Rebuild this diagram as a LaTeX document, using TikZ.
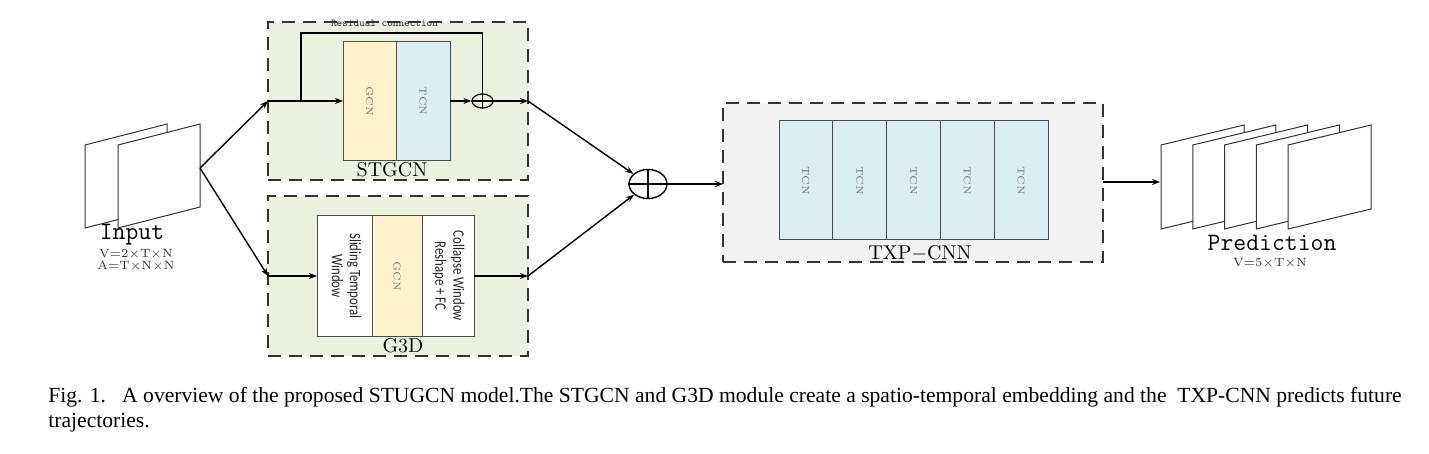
\documentclass[tikz,border=0pt]{standalone}
\usepackage{fontspec}
\usepackage{graphicx}
\usetikzlibrary{arrows.meta,shapes.geometric,positioning}
\newfontfamily\capfont{Liberation Serif}
\newfontfamily\blockfont[FakeStretch=0.8]{Carlito}
\definecolor{modgreen} {RGB}{235,241,222}
\definecolor{modgray}  {RGB}{242,242,242}
\definecolor{gcnyellow}{RGB}{255,242,204}
\definecolor{tcnblue}  {RGB}{219,238,243}

\begin{document}
\begin{tikzpicture}[
  x=0.5pt,y=-0.5pt,
  >={Stealth[length=4pt,width=3pt]},
  module/.style={draw=black!80,line width=1pt,dash pattern=on 6.5pt off 4pt,
                 fill=modgreen,inner sep=0pt,outer sep=0pt},
  layer/.style ={draw=black!70,line width=0.5pt,inner sep=0pt,outer sep=0pt,
                 minimum height=59.5pt,text=black!55,
                 font=\fontsize{5}{6}\selectfont},
  gcn/.style   ={layer,fill=gcnyellow},
  tcn/.style   ={layer,fill=tcnblue},
  wlayer/.style={layer,fill=white,minimum height=60pt,text=black!85,
                 font=\blockfont\fontsize{8}{9}\selectfont},
  sumop/.style ={draw,ellipse,line width=0.6pt,inner sep=0pt},
  modname/.style={font=\fontsize{10}{12}\selectfont},
  big/.style   ={font=\ttfamily\fontsize{12.5}{14}\selectfont},
  dims/.style  ={font=\fontsize{6}{7}\selectfont,text=black!80},
  sheet/.style ={draw=black!80,fill=white,line width=0.5pt},
  arr/.style   ={->,line width=0.7pt},
]
\useasboundingbox (0,0) rectangle (1429,454);

%% -- Input sheets
\foreach \dx in {0,33}
  \draw[sheet] (85+\dx,145) -- (167+\dx,124) -- (167+\dx,207) -- (85+\dx,228) -- cycle;
\coordinate (inR) at (200,168);
\node[big,anchor=base]  (intxt) at (132,240) {Input};
\node[dims,anchor=base] (inV)   at (136,257) {V=2$\times$T$\times$N};
\node[dims,anchor=base] (inA)   at (136,270) {A=T$\times$N$\times$N};

%% -- STGCN module
\node[module,minimum width=130pt,minimum height=79pt] (stgcn) at (398,101) {};
\node[gcn,minimum width=26.5pt] (gcnA) at (369.5,101) {\rotatebox{-90}{GCN}};
\node[tcn,minimum width=27pt,right=0pt of gcnA] (tcnA) {\rotatebox{-90}{TCN}};
\node[sumop,minimum width=10.5pt,minimum height=7pt] (res) at (482.5,101) {};
\draw[line width=0.6pt] (res.north) -- (res.south);
\draw[line width=0.6pt] (res.west) -- (res.east);
\node[modname] (stgcntxt) at (392,170) {STGCN};

%% -- G3D module
\node[module,minimum width=130pt,minimum height=80pt] (g3d) at (398,276) {};
\node[wlayer,minimum width=27.5pt] (slide) at (344.5,276)
  {\rotatebox{-90}{\begin{tabular}{@{}c@{}}Sliding Temporal\\Window\end{tabular}}};
\node[gcn,minimum width=25pt,minimum height=60pt,right=0pt of slide] (gcnB)
  {\rotatebox{-90}{GCN}};
\node[wlayer,minimum width=26pt,right=0pt of gcnB] (coll)
  {\rotatebox{-90}{\begin{tabular}{@{}c@{}}Collapse Window\\Reshape + FC\end{tabular}}};
\node[modname] (g3dtxt) at (403,346) {G3D};

%% -- Fusion
\node[sumop,line width=0.7pt,minimum width=19pt,minimum height=14.5pt] (sum) at (648,184) {};
\draw[line width=0.7pt] (sum.north) -- (sum.south);
\draw[line width=0.7pt] (sum.west) -- (sum.east);

%% -- TXP-CNN module
\node[module,fill=modgray,minimum width=190pt,minimum height=79.5pt] (txp) at (913,182.5) {};
\node[tcn,minimum width=26.9pt] (t1) at (805.9,180.5) {\rotatebox{-90}{TCN}};
\node[tcn,minimum width=26.9pt,right=0pt of t1] (t2) {\rotatebox{-90}{TCN}};
\node[tcn,minimum width=26.9pt,right=0pt of t2] (t3) {\rotatebox{-90}{TCN}};
\node[tcn,minimum width=26.9pt,right=0pt of t3] (t4) {\rotatebox{-90}{TCN}};
\node[tcn,minimum width=26.9pt,right=0pt of t4] (t5) {\rotatebox{-90}{TCN}};
\node[modname] (txptxt) at (920,253) {TXP$-$CNN};

%% -- Prediction sheets
\foreach \i in {0,...,4}
  \draw[sheet] (1161+31.75*\i,145) -- (1244+31.75*\i,125) -- (1244+31.75*\i,209)
    -- (1161+31.75*\i,229) -- cycle;
\coordinate (predL) at (1160,182);
\node[big,anchor=base]  (predtxt) at (1272,251) {Prediction};
\node[dims,anchor=base] (predV)   at (1270,267) {V=5$\times$T$\times$N};

%% -- Connections
\draw[arr] (inR) -- (stgcn.west);
\draw[arr] (inR) -- (g3d.west);
\draw[arr] (stgcn.west) -- (gcnA.west |- stgcn.west);
\draw[arr] (tcnA.east |- res.west) -- (res.west);
\draw[arr] (res.east) -- (stgcn.east);
\coordinate (split) at (301,101);
\coordinate (restop) at (482.5,33);
\draw[line width=0.7pt] (split) |- node[pos=0.73,above=-0.3pt,
  font=\ttfamily\fontsize{5.3}{6}\selectfont,text=black!80]{Residual connection}
  (restop) -- (res.north);
\draw[arr] (g3d.west) -- (slide.west |- g3d.west);
\draw[arr] (coll.east |- g3d.east) -- (g3d.east);
\draw[arr] (stgcn.east) -- (sum);
\draw[arr] (g3d.east) -- (sum);
\draw[arr] (sum.east) -- (sum.east -| txp.west);
\draw[arr] (txp.east |- predL) -- (predL);

%% -- Caption
\node[anchor=north west,inner sep=0pt,align=left,
      font=\capfont\fontsize{10.8}{12.5}\selectfont] (caption) at (48,387)
  {Fig. 1.\ \ \ A overview of the proposed STUGCN model.The STGCN and G3D module create a spatio-temporal embedding and the\ \ TXP-CNN predicts future\\trajectories.};

\end{tikzpicture}
\end{document}
